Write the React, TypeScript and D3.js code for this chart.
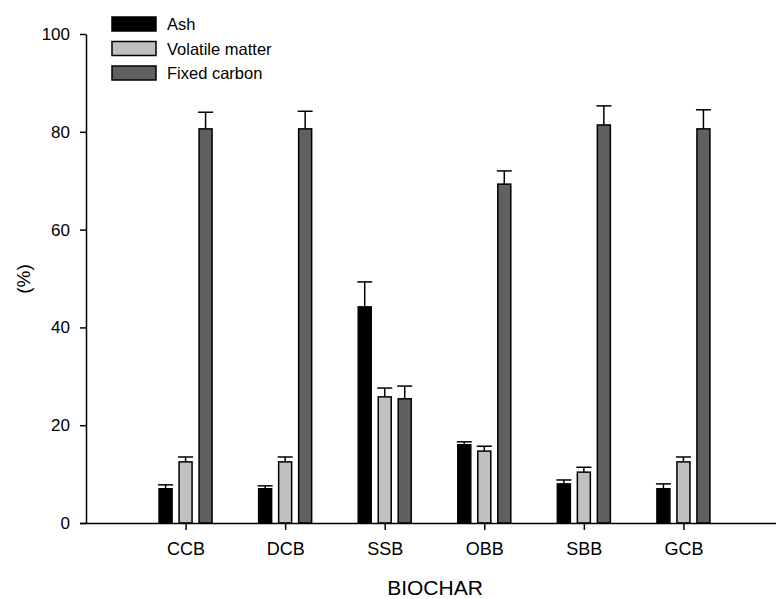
import React, { useEffect, useRef } from "react";
import * as d3 from "d3";

const categories = ["CCB", "DCB", "SSB", "OBB", "SBB", "GCB"];
const seriesNames = ["Ash", "Volatile matter", "Fixed carbon"];
const ash = [7.0, 7.0, 44.2, 16.0, 8.0, 7.0];
const ashErr = [0.8, 0.6, 5.1, 0.6, 0.8, 1.0];
const volatile = [12.5, 12.5, 25.8, 14.7, 10.4, 12.5];
const volatileErr = [1.0, 1.0, 1.8, 1.0, 1.0, 1.0];
const fixed = [80.6, 80.6, 25.4, 69.3, 81.4, 80.6];
const fixedErr = [3.4, 3.6, 2.6, 2.7, 3.9, 3.9];
const yTicks = [0, 20, 40, 60, 80, 100];
const fills = ["#000000", "#c0c0c0", "#606060"];

function App() {
  const svgRef = useRef(null);

  useEffect(() => {
    const w = 776;
    const h = 599;
    const svg = d3.select(svgRef.current).attr("width", w).attr("height", h);
    svg.selectAll("*").remove();

    const x = d3.scaleLinear().domain([0, 7]).range([86, 783]);
    const y = d3.scaleLinear().domain([0, 100]).range([523, 34]);
    const values = [ash, volatile, fixed];
    const errs = [ashErr, volatileErr, fixedErr];
    const offsets = [-20, 0, 20];
    const barW = 13;
    const font = "Liberation Sans, Arial, sans-serif";

    // bars + error bars
    values.forEach((vals, s) => {
      const g = svg.append("g");
      vals.forEach((v, i) => {
        const cx = x(i + 1) + offsets[s];
        const top = y(v + errs[s][i]);
        g.append("line")
          .attr("x1", cx).attr("x2", cx)
          .attr("y1", y(v)).attr("y2", top)
          .attr("stroke", "#000").attr("stroke-width", 1.5);
        g.append("line")
          .attr("x1", cx - 7.5).attr("x2", cx + 7.5)
          .attr("y1", top).attr("y2", top)
          .attr("stroke", "#000").attr("stroke-width", 1.5);
        g.append("rect")
          .attr("x", cx - barW / 2)
          .attr("y", y(v))
          .attr("width", barW)
          .attr("height", y(0) - y(v))
          .attr("fill", fills[s])
          .attr("stroke", "#000")
          .attr("stroke-width", 1.5);
      });
    });

    // y axis
    const yAxis = svg.append("g").attr("transform", "translate(86,0)")
      .call(d3.axisLeft(y).tickValues(yTicks).tickSize(6).tickPadding(10).tickSizeOuter(0));
    yAxis.select(".domain").attr("stroke-width", 1.5);
    yAxis.selectAll(".tick line").attr("stroke-width", 1.5);
    yAxis.selectAll("text").attr("font-size", 17).attr("font-family", font).attr("fill", "#000");

    // x axis
    const xAxis = svg.append("g").attr("transform", "translate(0,523)")
      .call(d3.axisBottom(x).tickValues(d3.range(1, 7)).tickFormat((d) => categories[+d - 1])
        .tickSize(7).tickPadding(12).tickSizeOuter(0));
    xAxis.select(".domain").attr("stroke-width", 1.5).attr("d", "M80,0.5H776");
    xAxis.selectAll(".tick line").attr("stroke-width", 1.5);
    xAxis.selectAll("text").attr("font-size", 18).attr("font-family", font).attr("fill", "#000");

    // axis titles
    svg.append("text")
      .attr("x", 435).attr("y", 595)
      .attr("text-anchor", "middle")
      .attr("font-size", 21).attr("font-family", font)
      .text("BIOCHAR");
    svg.append("text")
      .attr("transform", "translate(30,279) rotate(-90)")
      .attr("text-anchor", "middle")
      .attr("font-size", 19).attr("font-family", font)
      .text("(%)");

    // legend
    const legend = svg.append("g");
    seriesNames.forEach((name, s) => {
      const ly = 17 + s * 24.5;
      legend.append("rect")
        .attr("x", 112).attr("y", ly)
        .attr("width", 44).attr("height", 14)
        .attr("fill", fills[s]).attr("stroke", "#000").attr("stroke-width", 1.5);
      legend.append("text")
        .attr("x", 167).attr("y", ly + 13)
        .attr("font-size", 16.5).attr("font-family", font)
        .text(name);
    });
  }, []);

  return (
    <div>
      <svg ref={svgRef} style={{ position: "absolute", left: 0, top: 0, background: "#fff" }}></svg>
    </div>
  );
}

export default App;
